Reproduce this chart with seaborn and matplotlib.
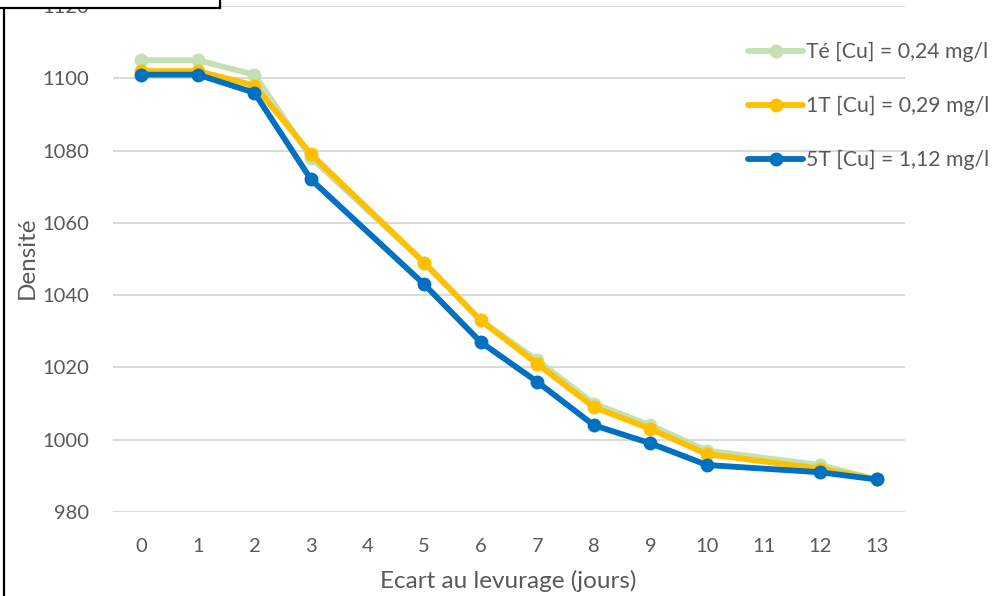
import matplotlib
matplotlib.use("Agg")
import matplotlib.pyplot as plt
from matplotlib.patches import Rectangle
from matplotlib.lines import Line2D
import pandas as pd
import seaborn as sns

# Days after yeast inoculation (no samples on days 4 and 11)
days = [0, 1, 2, 3, 5, 6, 7, 8, 9, 10, 12, 13]
day_ticks = list(range(14))

te_density = [1105, 1105, 1101, 1078, 1049, 1033, 1022, 1010, 1004, 997, 993, 989]
t1_density = [1102, 1102, 1098, 1079, 1049, 1033, 1021, 1009, 1003, 996, 992, 989]
t5_density = [1101, 1101, 1096, 1072, 1043, 1027, 1016, 1004, 999, 993, 991, 989]

series_names = ["Té [Cu] = 0,24 mg/l", "1T [Cu] = 0,29 mg/l", "5T [Cu] = 1,12 mg/l"]
series_colors = ["#C5E0B4", "#FFC000", "#0070C0"]
y_ticks = [980, 1000, 1020, 1040, 1060, 1080, 1100, 1120]

frames = []
for name, vals in zip(series_names, [te_density, t1_density, t5_density]):
    frames.append(pd.DataFrame({"jour": days, "densite": vals, "serie": name}))
df = pd.concat(frames, ignore_index=True)

sns.set_theme(style="white")
plt.rcParams["font.family"] = ["Lato", "DejaVu Sans"]
text_color = "#595959"

fig = plt.figure(figsize=(10.05, 5.96), dpi=100)
ax = fig.add_axes([113 / 1005, 1 - 512 / 596, 792 / 1005, 506 / 596])

sns.lineplot(
    data=df, x="jour", y="densite", hue="serie",
    hue_order=series_names, palette=series_colors,
    marker="o", markersize=10, markeredgewidth=0,
    linewidth=4.2, sort=False, legend=False, ax=ax,
)

ax.set_xlim(-0.5, 13.5)
ax.set_ylim(980, 1120)
ax.set_xticks(day_ticks)
ax.set_xticklabels([str(d) for d in day_ticks])
ax.set_yticks(y_ticks)
ax.grid(axis="y", color="#D9D9D9", linewidth=1.4)
ax.grid(axis="x", visible=False)
ax.set_axisbelow(True)
for s in ax.spines.values():
    s.set_visible(False)
ax.tick_params(axis="both", length=0, labelsize=14.5, colors=text_color)
ax.tick_params(axis="y", pad=17)
ax.tick_params(axis="x", pad=19)

ax.set_xlabel("Ecart au levurage (jours)", fontsize=17.5, color=text_color)
ax.set_ylabel("Densité", fontsize=17.5, color=text_color)
ax.xaxis.set_label_coords((508 - 113) / 792, (512 - 581) / 506)
ax.yaxis.set_label_coords((27 - 113) / 792, (512 - 258) / 506)
ax.xaxis.label.set_va("center")
ax.yaxis.label.set_va("center")

handles = [
    Line2D([], [], color=c, linewidth=4.2, marker="o", markersize=10, markeredgewidth=0)
    for c in series_colors
]
fig.legend(
    handles, series_names, loc="upper left",
    bbox_to_anchor=(748 / 1005, 1 - 42 / 596), frameon=False,
    fontsize=15.3, labelcolor=text_color, handlelength=2.6,
    handletextpad=0.15, labelspacing=1.6, borderpad=0, borderaxespad=0,
)

# Overlapping frame in the top-left corner
fig.patches.append(Rectangle((-0.01, 1 - 8 / 596), 220 / 1005 + 0.01, 0.05,
                             transform=fig.transFigure, facecolor="white",
                             edgecolor="black", linewidth=1.6, zorder=10))
fig.lines.append(Line2D([4 / 1005, 4 / 1005], [0, 1 - 8 / 596],
                        transform=fig.transFigure, color="black",
                        linewidth=1.6, zorder=10))

fig.savefig("out.png", dpi=100)
